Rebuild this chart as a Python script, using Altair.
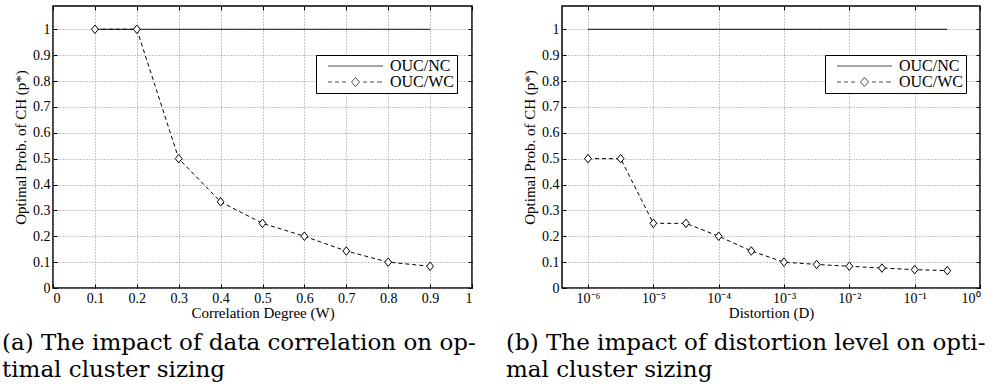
import altair as alt
import pandas as pd

# ---------------- data ----------------
series = ["OUC/NC", "OUC/WC"]

w_x = [0.1, 0.2, 0.3, 0.4, 0.5, 0.6, 0.7, 0.8, 0.9]
w_nc = [1, 1, 1, 1, 1, 1, 1, 1, 1]
w_wc = [1.0, 1.0, 0.5, 0.333, 0.25, 0.2, 0.143, 0.1, 0.084]

d_x = [1e-6, 3.16e-6, 1e-5, 3.16e-5, 1e-4, 3.16e-4, 1e-3, 3.16e-3, 1e-2, 3.16e-2, 1e-1, 3.16e-1]
d_nc = [1, 1, 1, 1, 1, 1, 1, 1, 1, 1, 1, 1]
d_wc = [0.5, 0.5, 0.25, 0.25, 0.2, 0.143, 0.1, 0.091, 0.084, 0.077, 0.071, 0.067]

y_ticks = [0, 0.1, 0.2, 0.3, 0.4, 0.5, 0.6, 0.7, 0.8, 0.9, 1.0]
w_ticks = [0, 0.1, 0.2, 0.3, 0.4, 0.5, 0.6, 0.7, 0.8, 0.9, 1.0]
d_ticks = [1e-6, 1e-5, 1e-4, 1e-3, 1e-2, 1e-1, 1e0]

y_title = "Optimal Prob. of CH (p*)"
w_title = "Correlation Degree (W)"
d_title = "Distortion (D)"
caption_a = ["(a) The impact of data correlation on op-", "timal cluster sizing"]
caption_b = ["(b) The impact of distortion level on opti-", "mal cluster sizing"]

# ---------------- styling ----------------
SERIF = "Liberation Serif"
DIAMOND = "M0,-1L0.8,0L0,1L-0.8,0Z"
LEG_NC = "M0.133,0L7.467,0"
LEG_WC = ("M0.133,0L0.667,0M1.067,0L1.6,0M2.0,0L2.533,0"
          "M3.267,0L3.8,-0.6L4.333,0L3.8,0.6Z"
          "M4.8,0L5.333,0M5.733,0L6.267,0M6.667,0L7.333,0")


def make_df(xs, nc, wc):
    return pd.DataFrame(
        [{"x": x, "y": y, "series": series[0]} for x, y in zip(xs, nc)] +
        [{"x": x, "y": y, "series": series[1]} for x, y in zip(xs, wc)])


def panel(df, xscale, xticks, xtitle, width, caption, dx, label_expr=None, fmt=None):
    ys = alt.Scale(domain=[0, 1.09], nice=False, zero=False)
    common = dict(labelFont=SERIF, labelFontSize=14, labelColor="black",
                  titleFont=SERIF, titleFontSize=15, titleFontWeight="normal",
                  titleColor="black", tickColor="black", tickWidth=1)
    bx = dict(values=xticks, orient="bottom", offset=-4, tickSize=4, domain=False,
              grid=True, gridDash=[1, 2], gridColor="#8c8c8c", gridWidth=1,
              labelPadding=3, title=xtitle, titlePadding=0, **common)
    if label_expr:
        bx["labelExpr"] = label_expr
    else:
        bx["format"] = fmt
    bottom_axis = alt.Axis(**bx)
    left_axis = alt.Axis(values=y_ticks, orient="left", offset=-4, tickSize=4,
                         domain=False, grid=True, gridDash=[1, 2],
                         gridColor="#8c8c8c", gridWidth=1, labelPadding=3,
                         format=".1~f", title=y_title, titlePadding=4, **common)
    top_axis = alt.Axis(values=xticks, orient="top", offset=-4, tickSize=4,
                        domain=False, grid=False, labels=False, title=None,
                        tickColor="black", tickWidth=1)
    right_axis = alt.Axis(values=y_ticks, orient="right", offset=-4, tickSize=4,
                          domain=False, grid=False, labels=False, title=None,
                          tickColor="black", tickWidth=1)

    base = alt.Chart(df)
    # dash scale domain listed in reverse order so that its (hidden) legend is
    # not merged with the shape legend below
    lines = base.mark_line(color="black", strokeWidth=1).encode(
        x=alt.X("x:Q", scale=xscale, axis=bottom_axis),
        y=alt.Y("y:Q", scale=ys, axis=left_axis),
        strokeDash=alt.StrokeDash("series:N",
                                  scale=alt.Scale(domain=[series[1], series[0]],
                                                  range=[[4, 3], [1, 0]]),
                                  legend=None),
    )
    points = base.transform_filter(alt.datum.series == series[1]).mark_point(
        shape=DIAMOND, size=72, filled=True, fill="white", stroke="black",
        strokeWidth=1, opacity=1,
    ).encode(
        x=alt.X("x:Q", scale=xscale, axis=top_axis),
        y=alt.Y("y:Q", scale=ys, axis=right_axis),
    )
    legend_layer = base.mark_point(
        color="black", filled=False, strokeWidth=1, size=0
    ).encode(
        x=alt.X("x:Q", scale=xscale, axis=None),
        y=alt.Y("y:Q", scale=ys, axis=None),
        shape=alt.Shape("series:N",
                        scale=alt.Scale(domain=series, range=[LEG_NC, LEG_WC]),
                        legend=alt.Legend(orient="none", legendX=263, legendY=49,
                                          title=None, padding=3,
                                          fillColor="white", strokeColor="black",
                                          labelFont=SERIF, labelFontSize=16,
                                          labelColor="black", symbolSize=225,
                                          symbolStrokeColor="black",
                                          symbolStrokeWidth=1,
                                          rowPadding=0, labelOffset=55)),
    )
    return alt.layer(lines, points, legend_layer).resolve_axis(
        x="independent", y="independent"
    ).properties(
        width=width, height=282,
        title=alt.TitleParams(text=caption, orient="bottom", anchor="start",
                              frame="group", dx=dx, offset=12,
                              font="DejaVu Serif", fontSize=23,
                              fontWeight="normal", color="black", lineHeight=27),
    )


left = panel(make_df(w_x, w_nc, w_wc),
             alt.Scale(domain=[0, 1], nice=False, zero=False), w_ticks, w_title,
             419, caption_a, -51, fmt=".1~f")

right = panel(make_df(d_x, d_nc, d_wc),
              alt.Scale(type="log", domain=[4e-7, 1], nice=False), d_ticks, d_title,
              418, caption_b, -56,
              label_expr="'10' + ['\u2070','\u207b\u00b9','\u207b\u00b2','\u207b\u00b3','\u207b\u2074','\u207b\u2075','\u207b\u2076'][round(-log(datum.value)/LN10)]")

chart = alt.hconcat(left, right, spacing=90, bounds="flush").resolve_scale(
    shape="independent", strokeDash="independent"
).resolve_legend(shape="independent").properties(
    padding={"left": 1, "top": 4, "right": 2, "bottom": 2}
).configure(background="white").configure_view(stroke="black", strokeWidth=1.5)

chart.save("out.html", embed_options={"renderer": "svg", "actions": False})
